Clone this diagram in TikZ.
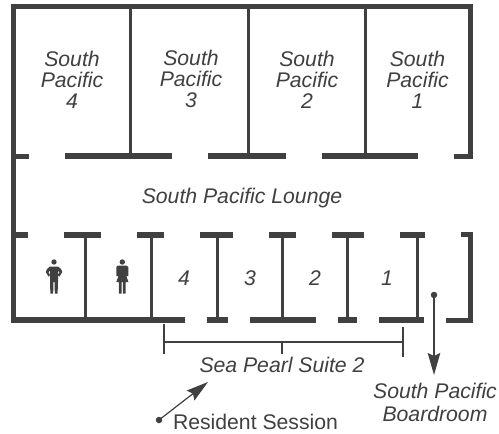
\documentclass[tikz,border=0pt]{standalone}
\usepackage{fontspec}
\setmainfont{Liberation Sans}
\usetikzlibrary{arrows.meta}
\definecolor{ink}{HTML}{404040}
\tikzset{
  x=1pt,y=-1pt,
  wall/.style={draw=ink,line width=5.5pt},
  outer/.style={draw=ink,line width=5pt,line cap=butt,line join=miter},
  part/.style={draw=ink,line width=3pt},
  brk/.style={draw=ink,line width=2pt},
  lead/.style={draw=ink,line width=1.2pt},
  head/.style={-{Stealth[length=22pt,width=12.5pt,inset=3pt,fill=ink]}},
  dot/.style={circle,fill=ink,inner sep=0pt,minimum size=6.5pt},
  lab/.style={text=ink,font=\fontsize{21.2}{21.2}\selectfont\itshape,anchor=base,inner sep=0pt},
  plain/.style={text=ink,font=\fontsize{21.2}{21.2}\selectfont,anchor=base,inner sep=0pt},
  figure/.style={fill=ink,draw=none},
}
\begin{document}
\begin{tikzpicture}
\useasboundingbox[fill=white] (0,0) rectangle (499,434);
% outer walls
\draw[outer] (29,156) -- (13,156);
\draw[outer] (13,4.5) -- (13,323);
\draw[outer] (10.5,6.7) -- (470.5,6.7) -- (470.5,159);
\draw[outer] (454,156) -- (473,156);
% upper dividers
\foreach \x in {130,248.5,365} \draw[part] (\x,7) -- (\x,156);
% upper corridor wall
\foreach \a/\b in {65/172,208/286,322/418} \draw[wall] (\a,156) -- (\b,156);
% lower corridor wall
\foreach \a/\b in {13/28,64/101,137/164,200/233,269/296,332/364,400/425} \draw[wall] (\a,235) -- (\b,235);
% bottom wall
\foreach \a/\b in {13/185,207/228,250/316,338/357,379/424} \draw[wall] (\a,320) -- (\b,320);
% right lower wall
\draw[outer] (461,234.5) -- (470.5,234.5) -- (470.5,320) -- (446,320);
% lower dividers
\foreach \x in {85,151.5,217,282,347.5,417} \draw[part] (\x,235) -- (\x,320);
% bracket
\draw[brk] (163.6,324) -- (163.6,354);
\draw[brk] (402.7,327) -- (402.7,357);
\draw[brk] (163.6,341.7) -- (402.7,341.7);
\draw[brk] (282,341.7) -- (282,354);
% man
\fill[figure] (54,262) circle (2.7);
\fill[figure] (50,266.5) -- (58,266.5) -- (61,269) -- (62.3,272) -- (59.5,276.5) -- (58,275) -- (59.5,272) -- (58,270.5) -- (58,282) -- (57.6,293.5) -- (54.8,293.5) -- (54.6,282) -- (53.4,282) -- (53.2,293.5) -- (50.4,293.5) -- (50,282) -- (50,270.5) -- (48.5,272) -- (50,275) -- (48.5,276.5) -- (45.8,272) -- (47,269) -- cycle;
% woman
\fill[figure] (122.3,262) circle (2.7);
\fill[figure] (118,265.5) -- (126.5,265.5) -- (128.3,267) -- (128.3,276) -- (126.3,276) -- (128.5,282) -- (125.7,282) -- (125.7,293.5) -- (122.9,293.5) -- (122.9,282) -- (121.7,282) -- (121.7,293.5) -- (118.9,293.5) -- (118.9,282) -- (116.3,282) -- (118.5,276) -- (116.4,276) -- (116.4,267) -- cycle;
% labels
\node[lab] (sp4a) at (72,66) {South};
\node[lab] (sp4b) at (72,87) {Pacific};
\node[lab] (sp4c) at (72,108) {4};
\node[lab] (sp3a) at (191,65) {South};
\node[lab] (sp3b) at (191,86) {Pacific};
\node[lab] (sp3c) at (191,107) {3};
\node[lab] (sp2a) at (307,66) {South};
\node[lab] (sp2b) at (307,87) {Pacific};
\node[lab] (sp2c) at (307,108) {2};
\node[lab] (sp1a) at (417.5,66) {South};
\node[lab] (sp1b) at (417.5,87) {Pacific};
\node[lab] (sp1c) at (417.5,108) {1};
\node[lab] (lounge) at (242,203) {South Pacific Lounge};
\node[lab] (r4) at (184,285) {4};
\node[lab] (r3) at (250,285) {3};
\node[lab] (r2) at (315,285) {2};
\node[lab] (r1) at (387,285) {1};
\node[lab] (suite) at (282,372) {Sea Pearl Suite 2};
\node[lab] (bd1) at (435,398) {South Pacific};
\node[lab] (bd2) at (435,421) {Boardroom};
\node[plain] (res) at (255.5,429) {Resident Session};
% arrows
\node[dot] (d1) at (434,295) {};
\coordinate (t1) at (434,375);
\draw[lead,head] (d1.center) -- (t1);
\node[dot] (d2) at (159,420) {};
\coordinate (t2) at (208,382);
\draw[lead,head] (d2.center) -- (t2);
\end{tikzpicture}
\end{document}
